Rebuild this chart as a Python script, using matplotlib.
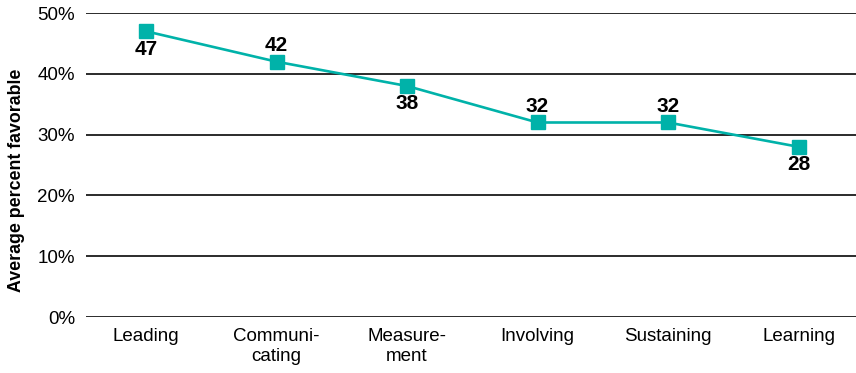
import matplotlib
matplotlib.use("Agg")
import matplotlib.pyplot as plt
import matplotlib.ticker as ticker

# --- Data ---
categories = ["Leading", "Communi-\ncating", "Measure-\nment", "Involving", "Sustaining", "Learning"]
values = [47, 42, 38, 32, 32, 28]
label_above = [False, True, False, True, True, False]
y_ticks = [0, 10, 20, 30, 40, 50]

teal = "#00b2a9"

plt.rcParams["font.family"] = ["Liberation Sans", "DejaVu Sans"]

fig = plt.figure(figsize=(8.56, 3.73), dpi=100)
ax = fig.add_axes([0.1005, 0.150, 0.8995, 0.815])

x = list(range(len(categories)))
ax.plot(x, values, color=teal, linewidth=1.9, marker="s", markersize=10,
        markerfacecolor=teal, markeredgecolor=teal, zorder=3)

for xi, v, up in zip(x, values, label_above):
    ax.annotate(f"{v}", (xi, v), textcoords="offset points",
                xytext=(0, 5 if up else -6), ha="center",
                va="bottom" if up else "top",
                fontsize=15, fontweight="bold", color="black")

ax.set_xlim(-0.46, 5.44)
ax.set_ylim(0, 50)
ax.set_yticks(y_ticks)
ax.yaxis.set_major_formatter(ticker.FuncFormatter(lambda v, _: f"{v:.0f}%"))
ax.set_xticks(x)
ax.set_xticklabels(categories)
ax.tick_params(axis="both", length=0, labelsize=13.5, colors="black")
ax.tick_params(axis="x", pad=8)
ax.tick_params(axis="y", pad=8)

ax.grid(axis="y", color="#1a1a1a", linewidth=1.3, zorder=1)
ax.set_axisbelow(True)
for s in ax.spines.values():
    s.set_visible(False)

ax.set_ylabel("Average percent favorable", fontsize=12.8, fontweight="bold")
ax.yaxis.set_label_coords(-0.079, 0.45)

fig.savefig("out.png", dpi=100)
